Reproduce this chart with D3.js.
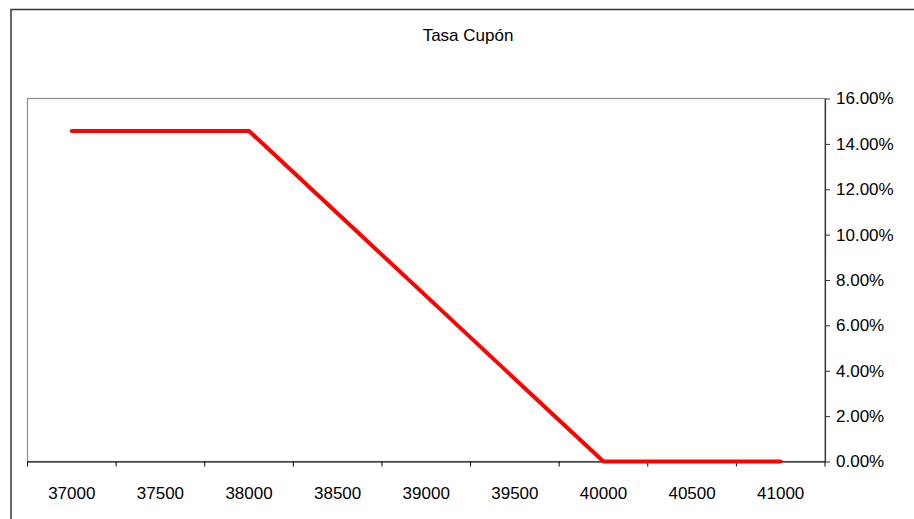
<!DOCTYPE html>
<html lang="es">
<head>
  <meta charset="UTF-8">
  <title>Tasa Cupón</title>
  <script src="https://d3js.org/d3.v7.min.js"></script>
  <style>
    body { margin: 0; background: #fff; }
    svg text { font-family: 'Liberation Sans', Arial, sans-serif; font-size: 17px; fill: #000; }
  </style>
</head>
<body>
  <svg id="chart" width="914" height="519"></svg>

  <script>
    const categories = ["37000", "37500", "38000", "38500", "39000", "39500", "40000", "40500", "41000"];
    const tasaCupon = [0.1457, 0.1457, 0.1457, 0.1093, 0.0729, 0.0364, 0, 0, 0];
    const yTicks = [0, 0.02, 0.04, 0.06, 0.08, 0.10, 0.12, 0.14, 0.16];

    const svg = d3.select("#chart");
    const margin = {top: 98.5, right: 89, bottom: 57.5, left: 27.5};
    const width = 914 - margin.left - margin.right;
    const height = 519 - margin.top - margin.bottom;

    // outer chart frame (runs off the picture on right and bottom)
    svg.append("rect")
      .attr("x", 11).attr("y", 9.5)
      .attr("width", 920).attr("height", 520)
      .attr("fill", "none")
      .attr("stroke", "#333")
      .attr("stroke-width", 1.5);

    svg.append("text")
      .attr("x", 468)
      .attr("y", 40.5)
      .attr("text-anchor", "middle")
      .text("Tasa Cupón");

    const g = svg.append("g").attr("transform", `translate(${margin.left},${margin.top})`);

    const x = d3.scaleBand().domain(categories).range([0, width]).padding(0);
    const y = d3.scaleLinear().domain([0, 0.16]).range([height, 0]);

    // plot area border
    g.append("rect")
      .attr("width", width).attr("height", height)
      .attr("fill", "none")
      .attr("stroke", "#8c8c8c")
      .attr("stroke-width", 1.2);

    // x axis: labels centred in bands, ticks at band edges
    const xAxis = g.append("g")
      .attr("transform", `translate(0,${height})`)
      .call(d3.axisBottom(x).tickSize(0).tickPadding(25));
    xAxis.select(".domain").attr("stroke", "#000").attr("stroke-width", 1.2);
    xAxis.selectAll("text").attr("fill", "#000");

    const edges = categories.map(c => x(c)).concat([x.range()[1]]);
    xAxis.selectAll(".edge")
      .data(edges)
      .enter()
      .append("line")
      .attr("class", "edge")
      .attr("x1", d => d).attr("x2", d => d)
      .attr("y1", 0).attr("y2", 5)
      .attr("stroke", "#000");

    // right y axis
    const yAxis = g.append("g")
      .attr("transform", `translate(${width},0)`)
      .call(d3.axisRight(y).tickValues(yTicks).tickFormat(d3.format(".2%")).tickSize(5).tickSizeOuter(0).tickPadding(6));
    yAxis.select(".domain").attr("stroke", "#333").attr("stroke-width", 1.2);
    yAxis.selectAll("line").attr("stroke", "#333");
    yAxis.selectAll("text").attr("fill", "#000");

    const line = d3.line()
      .x((d, i) => x(categories[i]) + x.bandwidth() / 2)
      .y(d => y(d));

    g.append("path")
      .datum(tasaCupon)
      .attr("fill", "none")
      .attr("stroke", "#ff0000")
      .attr("stroke-width", 4)
      .attr("stroke-linecap", "round")
      .attr("stroke-linejoin", "round")
      .attr("d", line);
  </script>
</body>
</html>
